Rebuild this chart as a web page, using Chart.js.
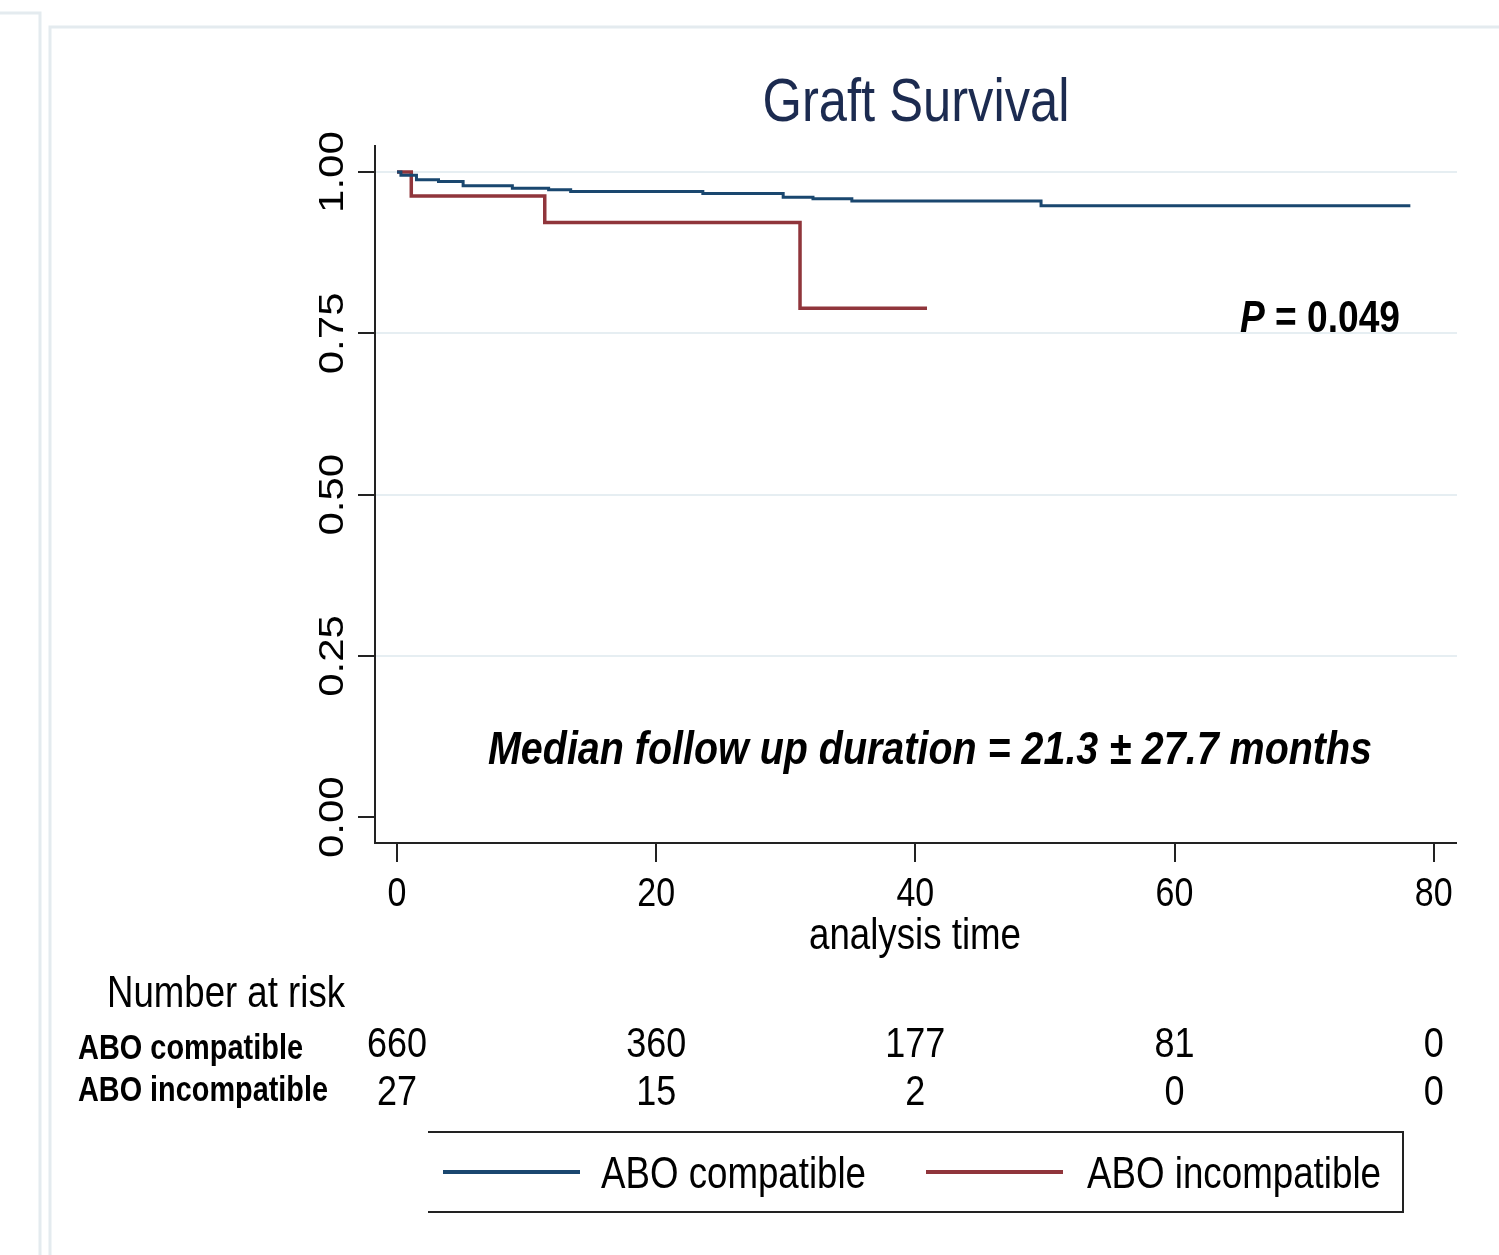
<!DOCTYPE html>
<html>
<head>
<meta charset="utf-8">
<title>Graft Survival</title>
<script src="https://cdn.jsdelivr.net/npm/chart.js@4.4.1/dist/chart.umd.min.js"></script>
<style>
  html, body { margin: 0; padding: 0; background: #ffffff; }
  #kmChart { display: block; }
</style>
</head>
<body>
<canvas id="kmChart" width="1499" height="1255"></canvas>
<script>
// ===============================
// KAPLAN-MEIER GRAFT SURVIVAL
// ===============================

// survival estimates (months, proportion)
const compTimes = [0, 0.3, 1.5, 3.2, 5.1, 8.9, 11.7, 13.4, 23.6, 29.8, 32.1, 35.1, 49.7, 78.2];
const compSurv  = [1.000, 0.995, 0.988, 0.9855, 0.979, 0.975, 0.9726, 0.970, 0.967, 0.961, 0.9586, 0.955, 0.948, 0.948];

const incTimes = [0, 1.1, 11.4, 31.1, 40.9];
const incSurv  = [1.000, 0.963, 0.922, 0.789, 0.789];

const xTicks = [0, 20, 40, 60, 80];
const yTicks = [0, 0.25, 0.5, 0.75, 1];
const yTickLabels = ["0.00", "0.25", "0.50", "0.75", "1.00"];

// number at risk table
const riskGroups = ["ABO compatible", "ABO incompatible"];
const riskComp = [660, 360, 177, 81, 0];
const riskInc  = [27, 15, 2, 0, 0];

const BLUE = "#1a476f";
const RED = "#90353b";
const FONT = "'Liberation Sans', Arial, sans-serif";

function toPoints(xs, ys) {
    return xs.map((x, i) => ({ x: x, y: ys[i] }));
}

// text helper: fit to a width, stretched vertically like the source image
function txt(ctx, s, x, y, font, align, w, color) {
    ctx.save();
    ctx.font = font;
    ctx.fillStyle = color || "#000000";
    const m = ctx.measureText(s).width;
    const sx = w ? w / m : 1;
    ctx.translate(x, y);
    ctx.scale(sx, 1.2);
    ctx.textAlign = align;
    ctx.textBaseline = "alphabetic";
    ctx.fillText(s, 0, 0);
    ctx.restore();
}

const decorPlugin = {
    id: "decor",
    beforeDraw(chart) {
        const ctx = chart.ctx;
        // faint page frames
        ctx.save();
        ctx.strokeStyle = "#e4ebef";
        ctx.lineWidth = 3;
        ctx.beginPath();
        ctx.moveTo(0, 13); ctx.lineTo(40, 13); ctx.lineTo(40, 1255);
        ctx.moveTo(1499, 27); ctx.lineTo(50, 27); ctx.lineTo(50, 1255);
        ctx.stroke();
        ctx.restore();
    },
    beforeDatasetsDraw(chart) {
        const ctx = chart.ctx;
        const xs = chart.scales.x;
        const ys = chart.scales.y;
        const area = chart.chartArea;
        ctx.save();

        // grid lines
        ctx.strokeStyle = "#e6eef2";
        ctx.lineWidth = 2;
        yTicks.forEach(v => {
            if (v === 0) return;
            const py = Math.round(ys.getPixelForValue(v));
            ctx.beginPath();
            ctx.moveTo(area.left, py);
            ctx.lineTo(area.right, py);
            ctx.stroke();
        });

        // axes
        ctx.strokeStyle = "#222222";
        ctx.lineWidth = 2;
        ctx.beginPath();
        ctx.moveTo(area.left, area.top);
        ctx.lineTo(area.left, area.bottom);
        ctx.lineTo(area.right, area.bottom);
        ctx.stroke();

        // tick marks
        yTicks.forEach(v => {
            const py = Math.round(ys.getPixelForValue(v));
            ctx.beginPath();
            ctx.moveTo(area.left - 17, py);
            ctx.lineTo(area.left, py);
            ctx.stroke();
        });
        xTicks.forEach(v => {
            const px = Math.round(xs.getPixelForValue(v));
            ctx.beginPath();
            ctx.moveTo(px, area.bottom);
            ctx.lineTo(px, area.bottom + 19);
            ctx.stroke();
        });

        ctx.restore();
    },
    afterDraw(chart) {
        const ctx = chart.ctx;
        const xs = chart.scales.x;
        const ys = chart.scales.y;

        // title
        txt(ctx, "Graft Survival", 916, 121, "51px " + FONT, "center", 307, "#1c2b50");

        // y tick labels, rotated
        yTicks.forEach((v, i) => {
            const py = ys.getPixelForValue(v);
            ctx.save();
            ctx.font = "35px " + FONT;
            ctx.fillStyle = "#000000";
            ctx.translate(343, py);
            ctx.rotate(-Math.PI / 2);
            ctx.scale(1.2, 1);
            ctx.textAlign = "center";
            ctx.fillText(yTickLabels[i], 0, 0);
            ctx.restore();
        });

        // x tick labels
        xTicks.forEach(v => {
            txt(ctx, String(v), xs.getPixelForValue(v), 906, "34px " + FONT, "center");
        });
        txt(ctx, "analysis time", 915, 949, "37px " + FONT, "center", 212);

        // annotations
        ctx.save();
        ctx.font = "italic bold 37px " + FONT;
        const pW = ctx.measureText("P").width;
        ctx.font = "bold 37px " + FONT;
        const restW = ctx.measureText(" = 0.049").width;
        ctx.restore();
        const pk = 160 / (pW + restW);
        txt(ctx, "P", 1240, 332, "italic bold 37px " + FONT, "left", pW * pk);
        txt(ctx, " = 0.049", 1240 + pW * pk, 332, "bold 37px " + FONT, "left", restW * pk);

        txt(ctx, "Median follow up duration = 21.3 \u00b1 27.7 months", 488, 764,
            "italic bold 39px " + FONT, "left", 884);

        // number at risk
        txt(ctx, "Number at risk", 107, 1007, "37px " + FONT, "left", 238);
        txt(ctx, riskGroups[0], 78, 1059, "bold 29px " + FONT, "left", 225);
        txt(ctx, riskGroups[1], 78, 1101, "bold 29px " + FONT, "left", 250);
        xTicks.forEach((v, i) => {
            const px = xs.getPixelForValue(v);
            txt(ctx, String(riskComp[i]), px, 1057, "36px " + FONT, "center");
            txt(ctx, String(riskInc[i]), px, 1105, "36px " + FONT, "center");
        });

        // legend box
        ctx.save();
        ctx.strokeStyle = "#222222";
        ctx.lineWidth = 2;
        ctx.beginPath();
        ctx.moveTo(428, 1132); ctx.lineTo(1403, 1132); ctx.lineTo(1403, 1212); ctx.lineTo(428, 1212);
        ctx.stroke();
        ctx.lineWidth = 4;
        ctx.strokeStyle = chart.data.datasets[0].borderColor;
        ctx.beginPath(); ctx.moveTo(443, 1172); ctx.lineTo(580, 1172); ctx.stroke();
        ctx.strokeStyle = chart.data.datasets[1].borderColor;
        ctx.beginPath(); ctx.moveTo(926, 1172); ctx.lineTo(1063, 1172); ctx.stroke();
        ctx.restore();
        txt(ctx, chart.data.datasets[0].label, 601, 1188, "37px " + FONT, "left", 265);
        txt(ctx, chart.data.datasets[1].label, 1087, 1188, "37px " + FONT, "left", 294);
    }
};

document.addEventListener("DOMContentLoaded", () => {

    const canvas = document.getElementById("kmChart");
    const ctx = canvas.getContext("2d");

    new Chart(ctx, {
        type: "line",
        data: {
            datasets: [{
                label: "ABO compatible",
                data: toPoints(compTimes, compSurv),
                borderColor: BLUE,
                borderWidth: 3,
                stepped: "before",
                pointRadius: 0,
                fill: false
            }, {
                label: "ABO incompatible",
                data: toPoints(incTimes, incSurv),
                borderColor: RED,
                borderWidth: 3.5,
                stepped: "before",
                pointRadius: 0,
                fill: false
            }]
        },
        options: {
            responsive: false,
            animation: false,
            layout: {
                padding: { left: 375, top: 145, right: 42, bottom: 412 }
            },
            plugins: {
                legend: { display: false },
                tooltip: { enabled: false }
            },
            scales: {
                x: { type: "linear", min: -1.7, max: 81.8, display: false },
                y: { type: "linear", min: -0.04, max: 1.042, display: false }
            }
        },
        plugins: [decorPlugin]
    });

});
</script>
</body>
</html>
